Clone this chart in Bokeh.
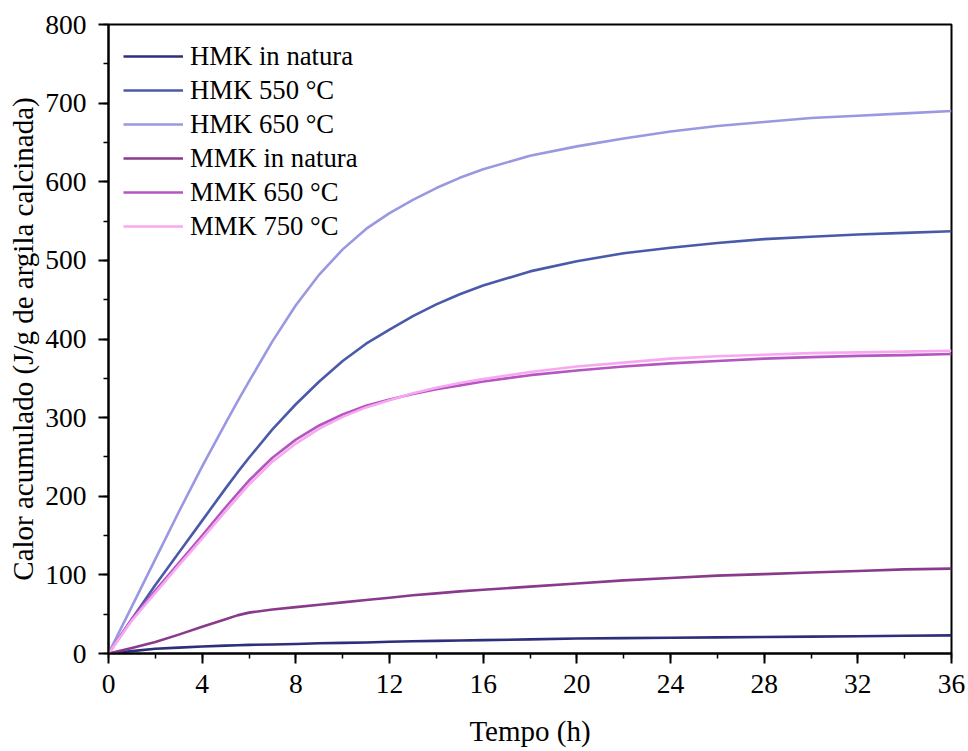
from bokeh.plotting import figure
from bokeh.models import Range1d, FixedTicker, Legend, LegendItem
from bokeh.embed import file_html
from bokeh.resources import INLINE

tempo = [0, 1, 2, 3, 4, 5, 5.5, 6, 7, 8, 9, 10, 11, 12, 13, 14, 15, 16,
         18, 20, 22, 24, 26, 28, 30, 32, 34, 36]

hmk_natura = [0, 3, 6, 7.5, 9, 10, 10.5, 11, 11.5, 12, 13, 13.5, 14, 15, 15.5, 16, 16.5, 17,
              18, 19, 19.5, 20, 20.5, 21, 21.5, 22, 22.5, 23]
hmk_550 = [0, 44, 87, 128, 169, 210, 230, 249, 285, 317, 346, 372, 394, 412, 429, 444, 457, 468,
           486, 499, 509, 516, 522, 527, 530, 533, 535, 537]
hmk_650 = [0, 60, 120, 180, 238, 293, 320, 346, 397, 443, 482, 514, 540, 560, 577, 592, 605, 616,
           633, 645, 655, 664, 671, 676, 681, 684, 687, 690]
mmk_natura = [0, 7, 14.5, 24, 34, 43.5, 48.5, 52, 56, 59, 62, 65, 68, 71, 74, 76.5, 79, 81,
              85, 89, 93, 96, 99, 101, 103, 105, 107, 108]
mmk_650 = [0, 44, 80, 115, 150, 186, 203, 220, 249, 272, 290, 304, 315, 323, 330, 336, 341, 346,
           354, 360, 365, 369, 372, 375, 377, 378.5, 379.5, 381]
mmk_750 = [0, 42, 77, 112, 146, 181, 198, 215, 244, 267, 286, 301, 313, 322, 331, 338, 344, 349,
           358, 365, 370, 375, 378, 380, 382, 383, 384, 385]

series_names = ["HMK in natura", "HMK 550 \u00b0C", "HMK 650 \u00b0C",
                "MMK in natura", "MMK 650 \u00b0C", "MMK 750 \u00b0C"]
series_values = [hmk_natura, hmk_550, hmk_650, mmk_natura, mmk_650, mmk_750]
colors = ["#2e2f7a", "#4a5aa8", "#9a98e0", "#8a3a8c", "#b356c0", "#f8a8f0"]

x_ticks = [0, 4, 8, 12, 16, 20, 24, 28, 32, 36]
y_ticks = [0, 100, 200, 300, 400, 500, 600, 700, 800]

FONT = "Liberation Serif"

p = figure(width=968, height=751, output_backend="svg", toolbar_location=None,
           x_range=Range1d(0, 36), y_range=Range1d(0, 800))
p.min_border_left = 108
p.min_border_right = 17
p.min_border_top = 24
p.min_border_bottom = 98
p.background_fill_color = "white"
p.border_fill_color = "white"
p.outline_line_color = "black"
p.outline_line_width = 2
p.xgrid.visible = False
p.ygrid.visible = False

items = []
for name, vals, c in zip(series_names, series_values, colors):
    r = p.line(tempo, vals, line_color=c, line_width=2.6, line_join="round")
    items.append(LegendItem(label=name, renderers=[r]))

for ax in (p.xaxis[0], p.yaxis[0]):
    ax.axis_line_width = 2
    ax.major_tick_line_width = 2
    ax.minor_tick_line_width = 1.5
    ax.major_tick_out = 10
    ax.major_tick_in = 0
    ax.minor_tick_out = 5
    ax.minor_tick_in = 0
    ax.major_label_text_font = FONT
    ax.major_label_text_font_size = "27.5px"
    ax.major_label_text_color = "black"
    ax.axis_label_text_font = FONT
    ax.axis_label_text_font_size = "29px"
    ax.axis_label_text_font_style = "normal"
    ax.axis_label_text_color = "black"

p.xaxis[0].ticker = FixedTicker(ticks=x_ticks, minor_ticks=list(range(0, 37, 2)))
p.yaxis[0].ticker = FixedTicker(ticks=y_ticks, minor_ticks=list(range(0, 801, 50)))
p.xaxis[0].axis_label = "Tempo (h)"
p.yaxis[0].axis_label = "Calor acumulado (J/g de argila calcinada)"
p.xaxis[0].major_label_standoff = 11
p.xaxis[0].axis_label_standoff = 19
p.yaxis[0].major_label_standoff = 12
p.yaxis[0].axis_label_standoff = 3

legend = Legend(items=items, location="top_left")
legend.border_line_color = None
legend.background_fill_alpha = 0
legend.margin = 15
legend.padding = 0
legend.spacing = 0
legend.glyph_width = 60
legend.glyph_height = 34
legend.label_height = 20
legend.label_standoff = 7
legend.label_text_font = FONT
legend.label_text_font_size = "26.7px"
legend.label_text_color = "black"
p.add_layout(legend, "center")

open("out.html", "w").write(file_html(p, INLINE))
